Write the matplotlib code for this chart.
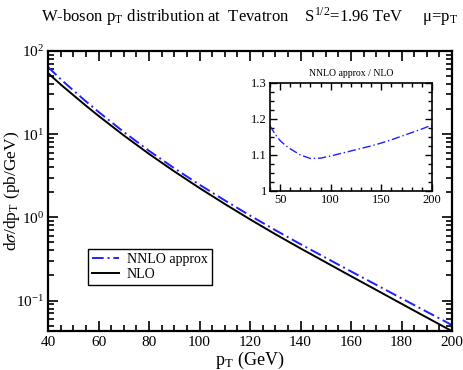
import numpy as np
import matplotlib
matplotlib.use('Agg')
import matplotlib.pyplot as plt
from matplotlib.ticker import MultipleLocator, LogLocator, NullFormatter

plt.rcParams['font.family'] = ['Liberation Serif', 'DejaVu Serif']
plt.rcParams['mathtext.fontset'] = 'stix'

# pT grid (GeV)
pt = [40, 45, 50, 55, 60, 70, 80, 90, 100, 110, 120, 130, 140, 150, 160, 170, 180, 190, 200]
# NLO dsigma/dpT (pb/GeV)
nlo = [54.3, 39.6, 29.5, 22.0, 16.6, 9.66, 5.79, 3.57, 2.25, 1.449, 0.946, 0.628,
       0.423, 0.288, 0.196, 0.134, 0.0914, 0.0625, 0.0428]
# NNLO approx / NLO ratio
ratio = [1.181, 1.158, 1.140, 1.127, 1.117, 1.100, 1.090, 1.091, 1.097, 1.104, 1.111,
         1.118, 1.125, 1.133, 1.142, 1.152, 1.162, 1.172, 1.183]

nnlo = [a * r for a, r in zip(nlo, ratio)]

fig = plt.figure(figsize=(4.63, 3.70), dpi=100)
ax = fig.add_axes([0.1037, 0.1054, 0.8726, 0.7568])

ax.plot(pt, nnlo, color='#2020ff', ls=(0, (6, 2, 1, 2)), lw=1.4, label='NNLO approx')
ax.plot(pt, nlo, color='k', ls='-', lw=1.4, label='NLO')

ax.set_yscale('log')
ax.set_xlim(40, 200)
ax.set_ylim(0.043, 100)
ax.xaxis.set_major_locator(MultipleLocator(20))
ax.xaxis.set_minor_locator(MultipleLocator(5))
ax.yaxis.set_major_locator(LogLocator(base=10, numticks=10))
ax.yaxis.set_minor_locator(LogLocator(base=10, subs=np.arange(2, 10), numticks=10))
ax.yaxis.set_minor_formatter(NullFormatter())
ax.tick_params(which='both', direction='in', top=True, right=True, labelsize=11, width=1.2)
ax.tick_params(which='major', length=7)
ax.tick_params(which='minor', length=4)
ax.tick_params(axis='y', pad=3)
for s in ax.spines.values():
    s.set_linewidth(1.6)

ax.set_xlabel(r'p$_\mathregular{T}$ (GeV)', fontsize=13, labelpad=1)
ax.set_ylabel(r'd$\sigma$/dp$_\mathregular{T}$ (pb/GeV)', fontsize=12.5)
ax.yaxis.set_label_coords(-0.064, 0.5)

leg = ax.legend(loc='lower left', bbox_to_anchor=(0.099, 0.165), fontsize=10,
                fancybox=False, framealpha=1, edgecolor='k', handlelength=1.9,
                borderpad=0.3, labelspacing=0.1, handletextpad=0.6, borderaxespad=0)
leg.get_frame().set_linewidth(1.0)

fig.text(0.54, 0.955, r'W-boson p$_\mathregular{T}$ distribution at  Tevatron    '
         r'S$^{\mathregular{1/2}}$=1.96 TeV     μ=p$_\mathregular{T}$',
         ha='center', va='center', fontsize=12)

# inset
ins = fig.add_axes([0.583, 0.484, 0.350, 0.292])
ins.plot(pt, ratio, color='#2020ff', ls=(0, (6, 2, 1, 2)), lw=1.0)
ins.set_xlim(40, 200)
ins.set_ylim(1.0, 1.3)
ins.xaxis.set_major_locator(MultipleLocator(50))
ins.xaxis.set_minor_locator(MultipleLocator(10))
ins.yaxis.set_minor_locator(MultipleLocator(0.025))
ins.set_yticks([1.0, 1.1, 1.2, 1.3])
ins.set_yticklabels(['1', '1.1', '1.2', '1.3'])
ins.tick_params(which='both', direction='in', top=True, right=True, labelsize=9, width=1.0, pad=2)
ins.tick_params(which='major', length=5)
ins.tick_params(which='minor', length=3)
for s in ins.spines.values():
    s.set_linewidth(1.2)
ins.set_title('NNLO approx / NLO', fontsize=7, pad=5)

fig.savefig('out.png', dpi=100)
